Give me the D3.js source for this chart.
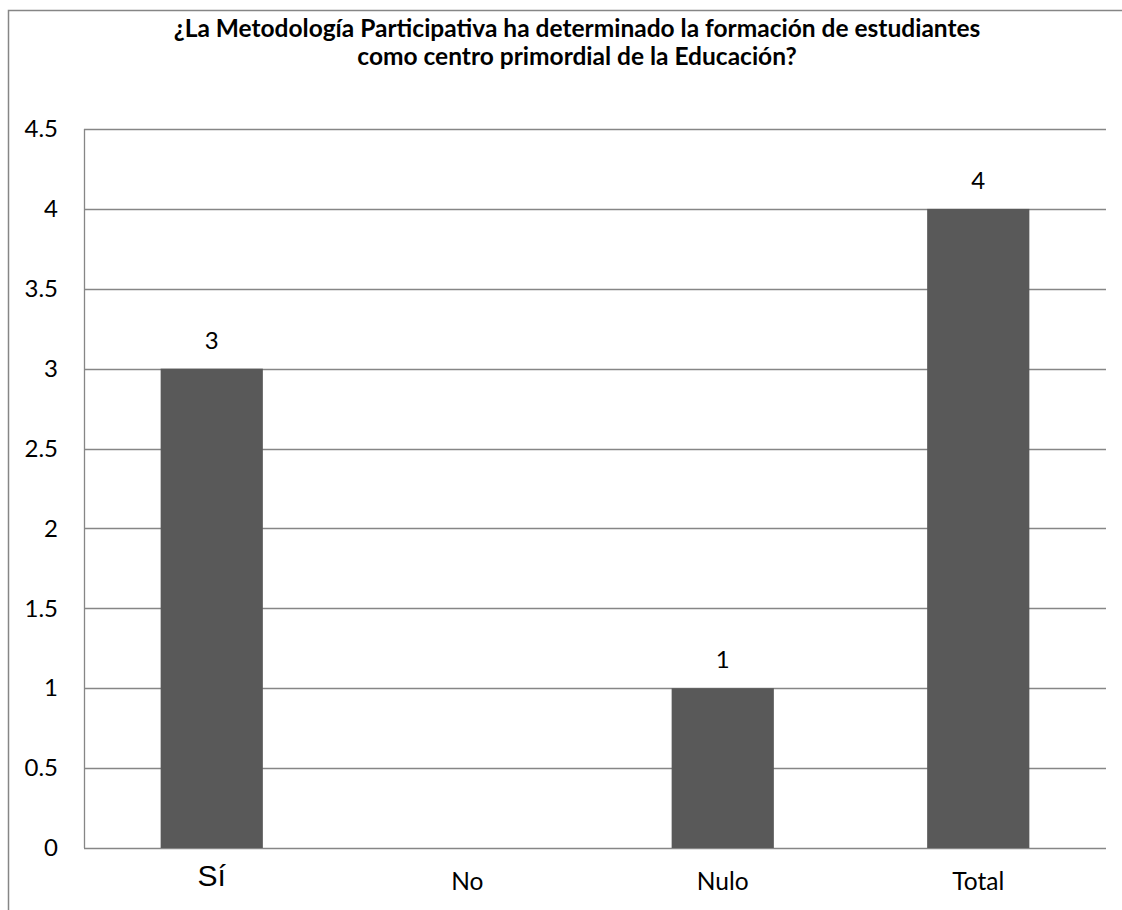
<!DOCTYPE html>
<html><head><meta charset="utf-8">
<script src="https://cdn.jsdelivr.net/npm/d3@7"></script>
<style>body{margin:0;background:#fff}svg{display:block}</style>
</head><body>
<svg id="c" width="1122" height="910"></svg>
<script>
const categories = ["Sí", "No", "Nulo", "Total"];
const values = [3, 0, 1, 4];
const yTicks = [0, 0.5, 1, 1.5, 2, 2.5, 3, 3.5, 4, 4.5];
const titleLines = ["¿La Metodología Participativa ha determinado la formación de estudiantes", "como centro primordial de la Educación?"];

const svg = d3.select("#c");
const font = "Lato, 'Open Sans', sans-serif";
const m = {l: 84, r: 1106, t: 129, b: 848};

// outer border (left and top)
svg.append("path").attr("d", "M8.5,910 L8.5,10.5 L1122,10.5").attr("fill", "none").attr("stroke", "#868686").attr("stroke-width", 1.5);

const x = d3.scaleBand().domain(categories).range([m.l, m.r]).paddingInner(0.6).paddingOuter(0.3);
const y = d3.scaleLinear().domain([0, 4.5]).range([m.b, m.t]);

// gridlines
svg.append("g").selectAll("line").data(yTicks).join("line")
  .attr("x1", m.l).attr("x2", m.r).attr("y1", d => Math.round(y(d)) + 0.5).attr("y2", d => Math.round(y(d)) + 0.5)
  .attr("stroke", "#868686").attr("stroke-width", 1.3);
svg.append("line").attr("x1", m.l + 0.5).attr("x2", m.l + 0.5).attr("y1", m.t).attr("y2", m.b)
  .attr("stroke", "#868686").attr("stroke-width", 1.3);

// y axis labels
const yAxis = d3.axisLeft(y).tickValues(yTicks).tickSize(0).tickPadding(26).tickFormat(d3.format("~g"));
const gy = svg.append("g").attr("transform", `translate(${m.l},0)`).call(yAxis);
gy.select(".domain").remove();
gy.selectAll("text").attr("font-family", font).attr("font-size", 24).attr("fill", "#000");

// bars
svg.append("g").selectAll("rect").data(values).join("rect")
  .attr("x", (d, i) => x(categories[i])).attr("width", x.bandwidth())
  .attr("y", d => y(d)).attr("height", d => y(0) - y(d))
  .attr("fill", "#595959");

// data labels
svg.append("g").selectAll("text").data(values.map((v, i) => ({v, c: categories[i]})).filter(d => d.v > 0)).join("text")
  .attr("x", d => x(d.c) + x.bandwidth() / 2).attr("y", d => y(d.v) - 20)
  .attr("text-anchor", "middle").attr("font-family", font).attr("font-size", 24).text(d => d.v);

// x labels
const xAxis = d3.axisBottom(x).tickSize(0).tickPadding(0);
const gx = svg.append("g").attr("transform", `translate(0,${m.b})`).call(xAxis);
gx.select(".domain").remove();
gx.selectAll("text").attr("dy", null).attr("y", 42)
  .attr("font-family", font).attr("font-size", 24.5).attr("fill", "#000");
gx.selectAll("text").filter(d => d === "Sí")
  .attr("font-family", "'Liberation Sans', Arial, sans-serif").attr("font-size", 30).attr("y", 38);

// title
svg.append("g").selectAll("text").data(titleLines).join("text")
  .attr("x", 577).attr("y", (d, i) => 37 + i * 28).attr("text-anchor", "middle")
  .attr("font-family", font).attr("font-weight", "bold").attr("font-size", 24.5).text(d => d);
</script>
</body></html>
